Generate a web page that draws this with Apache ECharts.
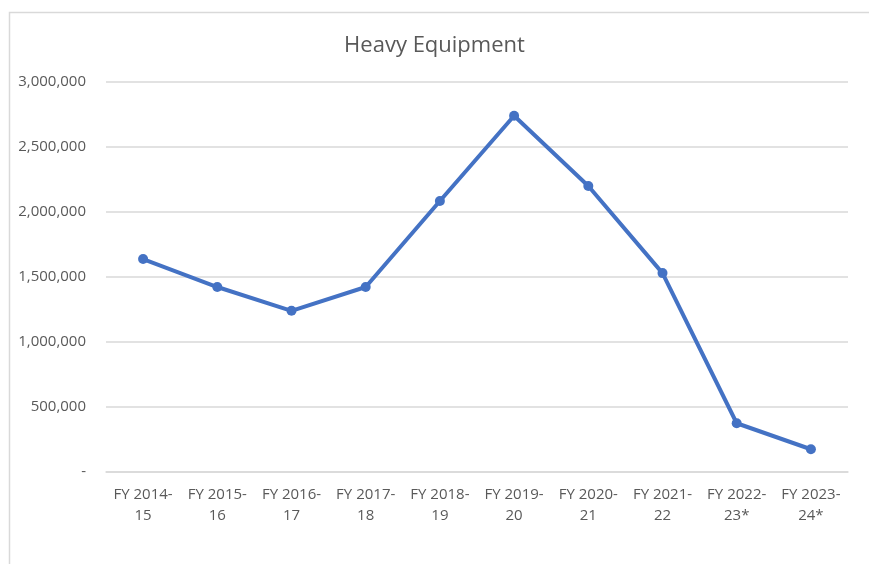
<!DOCTYPE html>
<html>
<head>
<meta charset="utf-8">
<script src="https://cdn.jsdelivr.net/npm/echarts@6/dist/echarts.min.js"></script>
<style>
  html, body { margin: 0; padding: 0; background: #fff; }
  #main { width: 869px; height: 564px; }
</style>
</head>
<body>
<div id="main"></div>
<script>
var categories = ['FY 2014-\n15', 'FY 2015-\n16', 'FY 2016-\n17', 'FY 2017-\n18', 'FY 2018-\n19',
    'FY 2019-\n20', 'FY 2020-\n21', 'FY 2021-\n22', 'FY 2022-\n23*', 'FY 2023-\n24*'];
var values = [1638000, 1423000, 1240000, 1423000, 2085000, 2740000, 2200000, 1530000, 375000, 175000];

var myChart = echarts.init(document.getElementById('main'));
myChart.setOption({
    animation: false,
    title: {
        text: 'Heavy Equipment',
        left: 'center',
        top: 30,
        textStyle: { fontFamily: 'Open Sans', fontSize: 22, fontWeight: 'normal', color: '#595959' }
    },
    // chart border like the Excel frame
    graphic: [{
        type: 'rect',
        shape: { x: 9.5, y: 12.5, width: 900, height: 600 },
        style: { fill: 'none', stroke: '#d9d9d9', lineWidth: 1.5 }
    }],
    grid: { left: 106, right: 21, top: 82, bottom: 92 },
    xAxis: {
        type: 'category',
        data: categories,
        axisLine: { show: true, lineStyle: { color: '#d9d9d9', width: 1.5 } },
        axisTick: { show: false },
        axisLabel: {
            interval: 0,
            margin: 12,
            lineHeight: 21,
            fontFamily: 'Open Sans',
            fontSize: 15,
            color: '#595959'
        }
    },
    yAxis: {
        type: 'value',
        min: 0,
        max: 3000000,
        interval: 500000,
        axisLine: { show: false },
        axisTick: { show: false },
        splitLine: { lineStyle: { color: '#d9d9d9', width: 1.5 } },
        axisLabel: {
            margin: 20,
            fontFamily: 'Open Sans',
            fontSize: 15,
            color: '#595959',
            formatter: function (v) { return v === 0 ? '-' : v.toLocaleString('en-US'); }
        }
    },
    series: [{
        type: 'line',
        data: values,
        symbol: 'circle',
        symbolSize: 10,
        itemStyle: { color: '#4472C4' },
        lineStyle: { color: '#4472C4', width: 4 }
    }]
});
</script>
</body>
</html>
